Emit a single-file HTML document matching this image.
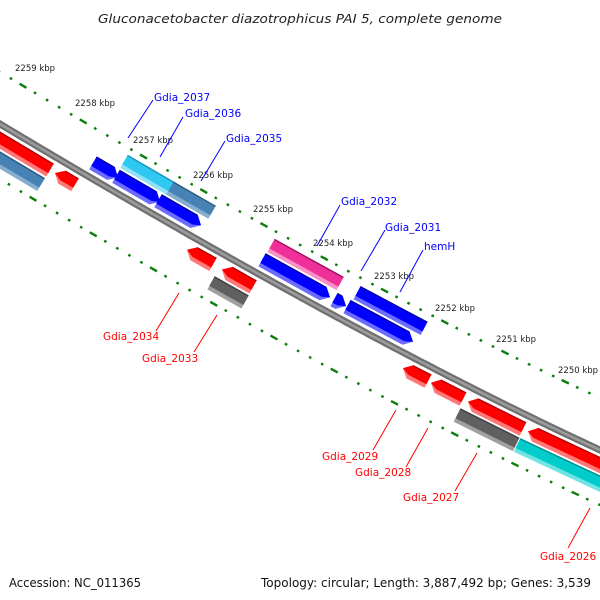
<!DOCTYPE html>
<html><head><meta charset="utf-8"><style>
html,body{margin:0;padding:0;background:#fff;width:600px;height:600px;overflow:hidden}
svg{display:block}
text{font-family:"DejaVu Sans","Liberation Sans",sans-serif}
.k{font-size:8.5px;fill:#222}
.b{font-size:10.5px;fill:#0000ff}
.r{font-size:10.5px;fill:#ff0000}
</style></head><body>
<svg id="s" width="600" height="600" viewBox="0 0 600 600" xmlns="http://www.w3.org/2000/svg">
<text x="300" y="23" text-anchor="middle" font-style="italic" font-size="12.5" fill="#222" textLength="404" lengthAdjust="spacingAndGlyphs">Gluconacetobacter diazotrophicus PAI 5, complete genome</text>
<text x="9" y="587" font-size="12" fill="#111" textLength="132" lengthAdjust="spacingAndGlyphs">Accession: NC_011365</text>
<text x="591" y="587" font-size="12" fill="#111" text-anchor="end" textLength="330" lengthAdjust="spacingAndGlyphs">Topology: circular; Length: 3,887,492 bp; Genes: 3,539</text>
<g id="g"></g>
<text class="k" x="15" y="71">2259 kbp</text>
<text class="k" x="75" y="106">2258 kbp</text>
<text class="k" x="133" y="143">2257 kbp</text>
<text class="k" x="193" y="178">2256 kbp</text>
<text class="k" x="253" y="212">2255 kbp</text>
<text class="k" x="313" y="246">2254 kbp</text>
<text class="k" x="374" y="279">2253 kbp</text>
<text class="k" x="435" y="311">2252 kbp</text>
<text class="k" x="496" y="342">2251 kbp</text>
<text class="k" x="558" y="373">2250 kbp</text>
<g stroke="#0000ff" stroke-width="1">
<line x1="153" y1="100" x2="128" y2="138"/><line x1="183" y1="117" x2="160" y2="157"/>
<line x1="225" y1="141" x2="201" y2="181"/><line x1="340" y1="205" x2="317" y2="246"/>
<line x1="385" y1="230" x2="361" y2="271"/><line x1="423" y1="250" x2="400" y2="292"/>
</g>
<g stroke="#ff0000" stroke-width="1">
<line x1="156" y1="331" x2="179" y2="293"/><line x1="194" y1="352" x2="217" y2="315"/>
<line x1="373" y1="450" x2="396" y2="410"/><line x1="406" y1="467" x2="428" y2="428"/>
<line x1="455" y1="491" x2="477" y2="453"/><line x1="568" y1="548" x2="590" y2="508"/>
</g>
<text class="b" x="154" y="101">Gdia_2037</text>
<text class="b" x="185" y="117">Gdia_2036</text>
<text class="b" x="226" y="142">Gdia_2035</text>
<text class="b" x="341" y="205">Gdia_2032</text>
<text class="b" x="385" y="231">Gdia_2031</text>
<text class="b" x="424" y="250">hemH</text>
<text class="r" x="103" y="340">Gdia_2034</text>
<text class="r" x="142" y="362">Gdia_2033</text>
<text class="r" x="322" y="460">Gdia_2029</text>
<text class="r" x="355" y="476">Gdia_2028</text>
<text class="r" x="403" y="501">Gdia_2027</text>
<text class="r" x="540" y="560">Gdia_2026</text>
</svg>
<script>
(function(){
var g=document.getElementById('g'),h='',DC=0;
function T(x){return (714-Math.sqrt(714*714-456*x))/228;}
function P(x){var t=T(x),u=1-t;var y=u*u*124+2*u*t*338+t*t*450;var dx=714-228*t,dy=428*u+224*t;var l=Math.hypot(dx,dy);return {x:x,y:y,c:dx/l,s:dy/l};}
function pt(x,d){var p=P(x);var xb=x+p.s*DC;p=P(xb);return [p.x-p.s*d,p.y+p.c*d];}
function poly(a,fill){h+='<polygon points="'+a.map(function(q){return q[0].toFixed(1)+','+q[1].toFixed(1)}).join(' ')+'" fill="'+fill+'"/>';}
function shape(x1,x2,d1,d2,dir,m){var al=7;if(m===undefined)m=(d1+d2)/2;
 if(dir>0){var xs=Math.max(x1,x2-al);return [pt(x1,d1),pt(xs,d1),pt(x2,m),pt(xs,d2),pt(x1,d2)];}
 if(dir<0){var xs2=Math.min(x2,x1+al);return [pt(x1,m),pt(xs2,d1),pt(x2,d1),pt(x2,d2),pt(xs2,d2)];}
 return [pt(x1,d1),pt(x2,d1),pt(x2,d2),pt(x1,d2)];}
function f(x1,x2,d,c,lc,dc,dir){var hh=7.5,m=d;DC=d;
 poly(shape(x1,x2,d-hh,d+hh,dir,m),lc);
 poly(shape(x1,x2,d-hh,d+hh-4,dir,m),c);
 poly(shape(x1+(dir<0?7:0),x2-(dir>0?7:0),d-hh,d-hh+1.3,0),dc);}
function ticks(off,x0){for(var i=-10;i<60;i++){var x=x0+i*12.05;if(x<-5||x>605)continue;var p=P(x),cx=p.x,cy=p.y+off;var major=(i%5===0);
 var L=major?4:1.3;h+='<line x1="'+(cx-p.c*L).toFixed(1)+'" y1="'+(cy-p.s*L).toFixed(1)+'" x2="'+(cx+p.c*L).toFixed(1)+'" y2="'+(cy+p.s*L).toFixed(1)+'" stroke="#0a7d0a" stroke-width="2.4"/>';}}
ticks(-52,23);ticks(55,33);
var d='M';for(var x=-2;x<=602;x+=4){var p=P(x);d+=(x>-2?' L':'')+p.x.toFixed(1)+','+p.y.toFixed(1);}
h+='<path d="'+d+'" fill="none" stroke="#707070" stroke-width="7"/>';
h+='<path d="'+d+'" fill="none" stroke="#9c9c9c" stroke-width="2.5"/>';
var R=['#ff0000','#ff7777','#b00000'],B=['#0000ff','#6b6bff','#0000a0'],SB=['#4682b4','#86acd0','#2c5a80'],
CY=['#2fc8f0','#8fe0f8','#1890b0'],PK=['#f0309a','#f890c8','#a0105a'],GR=['#606060','#a0a0a0','#404040'],TQ=['#00cccc','#70e4e4','#008888'];
function F(x1,x2,d,C,dir){f(x1,x2,d,C[0],C[1],C[2],dir);}
F(124,172,-31,CY,0);F(170,212,-31,SB,0);F(271,340,-31,PK,0);F(357,424,-31,B,0);
F(93,118,-14,B,1);F(116,160,-14,B,1);F(158,201,-14,B,1);F(262,330,-14,B,1);F(334,346,-14,B,1);F(347,413,-14,B,1);
F(-10,50,14,R,0);F(55,75,14,R,-1);F(187,213,14,R,-1);F(222,253,14,R,-1);
F(403,428,14,R,-1);F(431,463,14,R,-1);F(468,523,14,R,-1);F(528,620,14,R,-1);
F(-10,41,31,SB,0);F(211,245,31,GR,0);F(457,516,31,GR,0);F(517,620,31,TQ,0);
g.innerHTML=h;
})();
</script>
</body></html>
